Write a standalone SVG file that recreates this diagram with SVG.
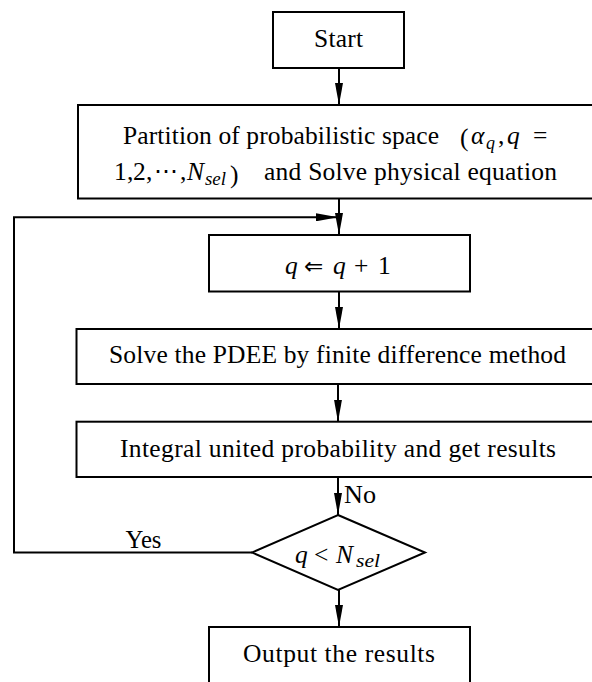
<svg xmlns="http://www.w3.org/2000/svg" width="592" height="682" viewBox="0 0 592 682">
<style>
.box{fill:#fff;stroke:#000;stroke-width:2}
.con{fill:none;stroke:#000;stroke-width:2}
.t{font-family:"Liberation Serif","DejaVu Serif",serif;font-size:25.5px;fill:#000}
.i{font-style:italic}
.s{font-size:18px;font-style:italic}
</style>
<defs>
<marker id="ah" markerUnits="userSpaceOnUse" markerWidth="22" markerHeight="8" refX="22" refY="4" orient="auto">
<path d="M0,0 L22,4 L0,8 Z" fill="#000"/>
</marker>
</defs>
<rect width="592" height="682" fill="#fff"/>
<g id="connectors">
<line class="con" x1="339" y1="68" x2="339" y2="105" marker-end="url(#ah)"/>
<line class="con" x1="339" y1="198.5" x2="339" y2="235" marker-end="url(#ah)"/>
<polyline class="con" points="252,552.5 14,552.5 14,217.3 338,217.3" marker-end="url(#ah)"/>
<line class="con" x1="339" y1="291.5" x2="339" y2="329" marker-end="url(#ah)"/>
<line class="con" x1="338" y1="384" x2="338" y2="421.7" marker-end="url(#ah)"/>
<line class="con" x1="338" y1="477" x2="338" y2="515" marker-end="url(#ah)"/>
<line class="con" x1="339" y1="590" x2="339" y2="627" marker-end="url(#ah)"/>
<text class="t" x="344" y="503" textLength="32" lengthAdjust="spacingAndGlyphs">No</text>
<text class="t" x="125.5" y="548.3" textLength="36" lengthAdjust="spacingAndGlyphs">Yes</text>
</g>
<g id="start">
<rect class="box" x="273" y="12" width="131" height="56"/>
<text class="t" x="314" y="46.7" textLength="49" lengthAdjust="spacing">Start</text>
</g>
<g id="partition">
<rect class="box" x="78" y="105" width="530" height="93.5"/>
<text class="t" x="123" y="143.5" textLength="316" lengthAdjust="spacing">Partition of probabilistic space</text>
<text class="t" x="460" y="145.5" font-size="28">(</text>
<text class="t i" x="471" y="143.5" font-size="27">α</text>
<text class="t s" x="486" y="148.5">q</text>
<text class="t" x="498" y="143.5">,</text>
<text class="t i" x="507" y="143.5">q</text>
<text class="t" x="533" y="143.5">=</text>
<text class="t" x="114" y="180">1</text>
<text class="t" x="127" y="180">,</text>
<text class="t" x="133" y="180">2</text>
<text class="t" x="146" y="180">,</text>
<text class="t" x="154" y="180" font-family="DejaVu Serif" textLength="24" lengthAdjust="spacingAndGlyphs">⋯</text>
<text class="t" x="180" y="180">,</text>
<text class="t i" x="187" y="180">N</text>
<text class="t s" x="205" y="185" textLength="21" lengthAdjust="spacingAndGlyphs">sel</text>
<text class="t" x="230" y="182.5" font-size="28">)</text>
<text class="t" x="264" y="180" textLength="293" lengthAdjust="spacing">and Solve physical equation</text>
</g>
<g id="increment">
<rect class="box" x="209" y="235" width="261" height="56.5"/>
<text class="t" x="285" y="273.5"><tspan class="i">q</tspan><tspan x="304" font-family="DejaVu Sans" font-size="23">⇐</tspan><tspan x="333" class="i">q</tspan><tspan x="354">+</tspan><tspan x="378">1</tspan></text>
</g>
<g id="pdee">
<rect class="box" x="76.5" y="329" width="530" height="55"/>
<text class="t" x="109" y="363" textLength="457" lengthAdjust="spacing">Solve the PDEE by finite difference method</text>
</g>
<g id="integral">
<rect class="box" x="76.5" y="421.7" width="530" height="55.3"/>
<text class="t" x="120" y="456.7" textLength="436" lengthAdjust="spacing">Integral united probability and get results</text>
</g>
<g id="decision">
<polygon class="box" points="338,515 425,552.5 338,590 252,552.5"/>
<text class="t i" x="295" y="563.3">q</text>
<text class="t" x="314" y="563.3">&lt;</text>
<text class="t i" x="336" y="563.3">N</text>
<text class="t s" x="356" y="567" textLength="24" lengthAdjust="spacingAndGlyphs">sel</text>
</g>
<g id="output">
<rect class="box" x="209" y="627" width="261" height="80"/>
<text class="t" x="243" y="661.7" textLength="192" lengthAdjust="spacing">Output the results</text>
</g>
</svg>
